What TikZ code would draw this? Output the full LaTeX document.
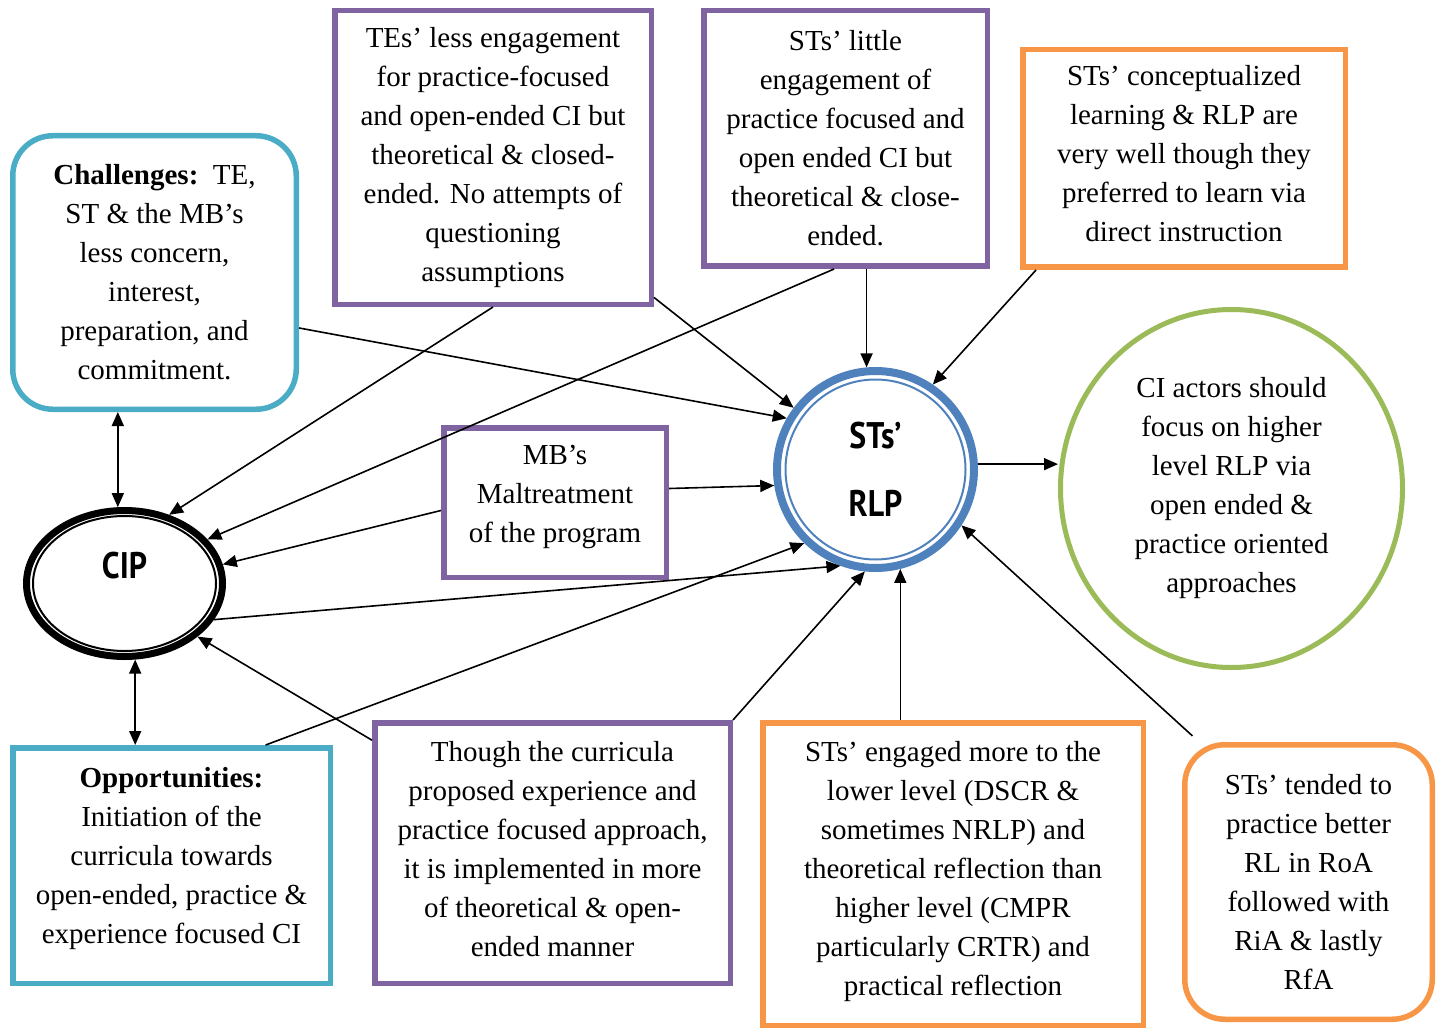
\documentclass[tikz,border=0pt]{standalone}
\usepackage{fontspec}
\setmainfont{Liberation Serif}
\newfontfamily\lblfont[FakeStretch=0.86]{PT Sans}
\usetikzlibrary{arrows.meta,shapes.geometric}
\definecolor{cteal}{HTML}{4BACC6}
\definecolor{cpurple}{HTML}{8064A2}
\definecolor{corange}{HTML}{F79646}
\definecolor{cgreen}{HTML}{9BBB59}
\definecolor{cblue}{HTML}{4F81BD}
\tikzset{
  tip/.tip={Triangle[length=14pt,width=12pt]},
  arr/.style={-tip, line width=1.6pt},
  darr/.style={tip-tip, line width=1.6pt},
  boxbase/.style={draw, line width=5.5pt, align=center, inner sep=0pt,
    font=\fontsize{29}{39}\selectfont},
  tealbox/.style={boxbase, draw=cteal},
  purplebox/.style={boxbase, draw=cpurple},
  orangebox/.style={boxbase, draw=corange},
  roundbox/.style={rounded corners=40pt},
  hub/.style={font=\lblfont\bfseries\fontsize{37}{68}\selectfont, align=center},
}
\begin{document}
\begin{tikzpicture}[x=1pt,y=-1pt]
\useasboundingbox (0,0) rectangle (1437,1032);

% central hubs
\node[draw, ellipse, line width=7pt, minimum width=196pt, minimum height=146pt,
      label={[hub, yshift=17.5pt]center:CIP}] (cip) at (124.5,583.5) {};
\draw[line width=2pt] (cip.center) ellipse [x radius=91.5, y radius=67.5];

\node[draw=cblue, circle, line width=8pt, minimum size=197pt, hub] (rlp) at (875.5,469.5) {STs’\\RLP};
\draw[cblue, line width=2pt] (rlp.center) circle [radius=90];

\node[draw=cgreen, ellipse, line width=5pt, minimum width=342pt, minimum height=358pt,
      align=center, inner sep=0pt, font=\fontsize{29}{39}\selectfont] (ci) at (1231.5,488.5)
  {CI actors should\\focus on higher\\level RLP via\\open ended \&\\practice oriented\\approaches};

% surrounding boxes
\node[tealbox, roundbox, minimum width=283.5pt, minimum height=273.5pt] (chal) at (154.5,272.5)
  {\textbf{Challenges:}\ \ TE,\\ST \& the MB’s\\less concern,\\interest,\\preparation, and\\commitment.};
\node[purplebox, minimum width=316.5pt, minimum height=293.5pt] (tes) at (493,157.5)
  {TEs’ less engagement\\for practice-focused\\and open-ended CI but\\theoretical \& closed-\\ended. No attempts of\\questioning\\assumptions};
\node[purplebox, minimum width=283.5pt, minimum height=255.5pt] (little) at (845.5,138.5)
  {STs’ little\\engagement of\\practice focused and\\open ended CI but\\theoretical \& close-\\ended.};
\node[orangebox, minimum width=322.5pt, minimum height=217.5pt, text depth=10pt] (concept) at (1184,158.5)
  {STs’ conceptualized\\learning \& RLP are\\very well though they\\preferred to learn via\\direct instruction};
\node[purplebox, minimum width=222.5pt, minimum height=149.5pt, text depth=17pt] (mb) at (555,502.5)
  {MB’s\\Maltreatment\\of the program};
\node[tealbox, minimum width=317.5pt, minimum height=235.5pt, text depth=21pt] (opp) at (171.5,865.5)
  {\textbf{Opportunities:}\\Initiation of the\\curricula towards\\open-ended, practice \&\\experience focused CI};
\node[purplebox, minimum width=355.5pt, minimum height=260.5pt, text depth=8pt] (though) at (552.5,853)
  {Though the curricula\\proposed experience and\\practice focused approach,\\it is implemented in more\\of theoretical \& open-\\ended manner};
\node[orangebox, minimum width=380.5pt, minimum height=302.5pt, text depth=12pt] (engaged) at (953,874)
  {STs’ engaged more to the\\lower level (DSCR \&\\sometimes NRLP) and\\theoretical reflection than\\higher level (CMPR\\particularly CRTR) and\\practical reflection};
\node[orangebox, roundbox, minimum width=247.5pt, minimum height=274.5pt] (tended) at (1308.5,882)
  {STs’ tended to\\practice better\\RL in RoA\\followed with\\RiA \& lastly\\RfA};

% connectors into CIP
\draw[darr] (chal.south -| cip.95) -- (cip.95);
\draw[darr] (opp.north -| cip.278.5) -- (cip.278.5);
\draw[arr] (tes.south) -- (cip.57);
\draw[arr] (little.265.5) -- (cip.28.5);
\draw[arr] (mb.184.3) -- (cip.11.3);
\draw[arr] (though.148.5) -- (cip.324.2);

% connectors into STs' RLP
\draw[arr] (chal.-21) -- (rlp.150);
\draw[arr] (tes.-41.1) -- (rlp.143);
\draw[arr] (little.south -| rlp.95.3) -- (rlp.95.3);
\draw[arr] (concept.217.8) -- (rlp.56.2);
\draw[arr] (mb.7.7) -- (rlp.189.9);
\draw[arr] (cip.338.7) -- (rlp.250);
\draw[arr] (opp.52.2) -- (rlp.226);
\draw[arr] (though.north east) -- (rlp.264);
\draw[arr] (engaged.north -| rlp.284.5) -- (rlp.284.5);
\draw[arr, shorten <=9pt] (tended.128.5) -- (rlp.327.3);

% outcome
\draw[arr] (rlp.3) -- (rlp.3 -| ci.west);
\end{tikzpicture}
\end{document}
